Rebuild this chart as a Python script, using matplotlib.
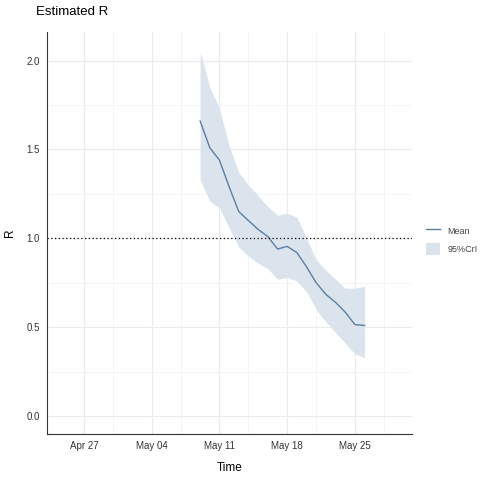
import matplotlib
matplotlib.use("Agg")
import matplotlib.pyplot as plt
import matplotlib.dates as mdates
import matplotlib.patches as patches
from matplotlib.lines import Line2D
import datetime as dt

plt.rcParams["font.family"] = ["Liberation Sans", "DejaVu Sans"]

dates = [dt.date(2020, 5, 9) + dt.timedelta(days=i) for i in range(18)]
r_mean = [1.66, 1.51, 1.44, 1.29, 1.15, 1.10, 1.05, 1.01, 0.94, 0.955, 0.92, 0.84,
          0.75, 0.685, 0.64, 0.585, 0.515, 0.51]
r_upper = [2.05, 1.85, 1.73, 1.52, 1.37, 1.30, 1.24, 1.18, 1.13, 1.14, 1.12, 1.00,
           0.88, 0.82, 0.77, 0.72, 0.72, 0.73]
r_lower = [1.33, 1.21, 1.17, 1.06, 0.95, 0.90, 0.86, 0.83, 0.77, 0.78, 0.76, 0.70,
           0.60, 0.53, 0.47, 0.41, 0.35, 0.33]

fig = plt.figure(figsize=(4.8, 4.8), dpi=100)
ax = fig.add_axes([0.098, 0.096, 0.76, 0.837])
ax.fill_between(dates, r_lower, r_upper, color="#dbe3ec", lw=0)
ax.plot(dates, r_mean, color="#5b7fa3", lw=1.0)
ax.axhline(1.0, color="black", ls=(0, (1, 2)), lw=0.9)

ref = mdates.date2num(dt.date(2020, 4, 27))
ax.set_xlim(ref - 37 / 9.68, ref + 328 / 9.68)
ax.set_ylim(-0.10, 2.16)
ax.xaxis.set_major_locator(mdates.WeekdayLocator(byweekday=mdates.MO))
ax.xaxis.set_major_formatter(mdates.DateFormatter("%b %d"))
ax.xaxis.set_minor_locator(mdates.WeekdayLocator(byweekday=mdates.TH))
ax.set_yticks([0.0, 0.5, 1.0, 1.5, 2.0])
ax.set_yticks([0.25, 0.75, 1.25, 1.75], minor=True)
ax.grid(which="major", color="#ebebeb", lw=0.8)
ax.grid(which="minor", color="#f4f4f4", lw=0.6)
ax.set_axisbelow(True)
for s in ["top", "right"]:
    ax.spines[s].set_visible(False)
for s in ["left", "bottom"]:
    ax.spines[s].set_color("#333333")
    ax.spines[s].set_linewidth(0.8)
ax.tick_params(which="both", length=0, labelsize=7, labelcolor="#333333", pad=5)
ax.set_xlabel("Time", fontsize=8.5, labelpad=8)
ax.set_ylabel("R", fontsize=8.5, labelpad=8)
ax.set_title("Estimated R", loc="left", fontsize=9.5, x=-0.03, pad=12)

handles = [Line2D([0], [0], color="#5b7fa3", lw=1.0),
           patches.Patch(facecolor="#dbe3ec", edgecolor="none")]
fig.legend(handles, ["Mean", "95%CrI"], loc="center left", bbox_to_anchor=(0.87, 0.5),
           frameon=False, fontsize=6.5, handlelength=1.6, handleheight=1.8,
           labelspacing=0.6, labelcolor="#444444")

fig.savefig("out.png", dpi=100, facecolor="white")
